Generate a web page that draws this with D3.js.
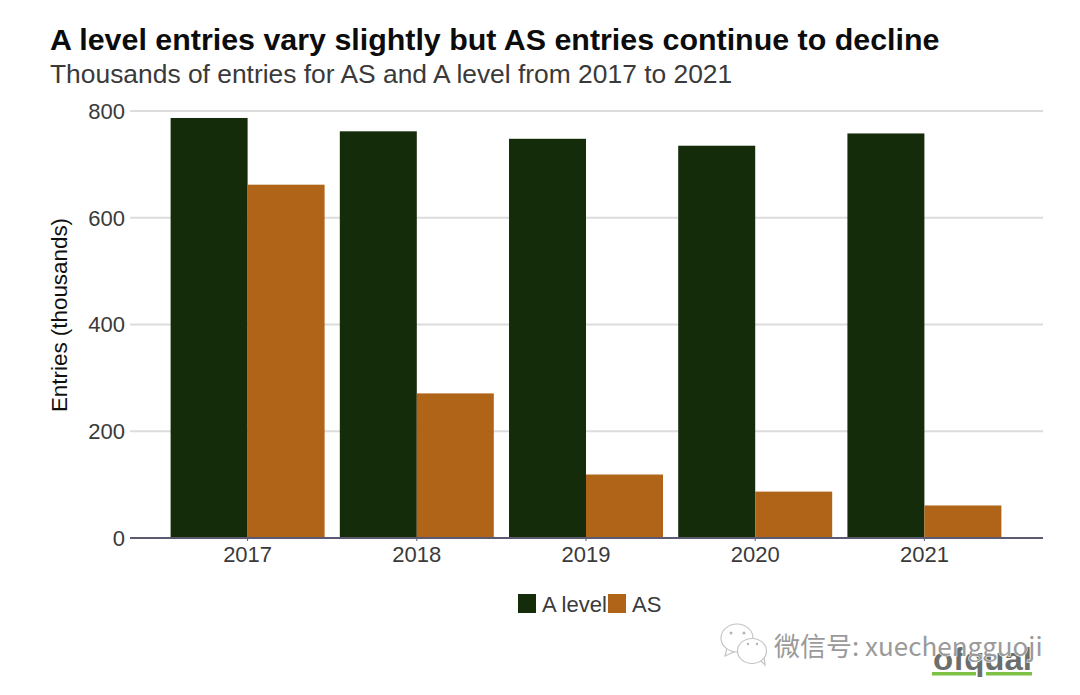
<!DOCTYPE html>
<meta charset="utf-8">
<style>
  html, body { margin: 0; padding: 0; background: #fff; }
  svg { display: block; font-family: "Liberation Sans", Arial, sans-serif; }
</style>
<script src="https://d3js.org/d3.v7.min.js"></script>
<div id="my_dataviz"></div>
<script>
  var years = ["2017", "2018", "2019", "2020", "2021"];
  var seriesNames = ["A level", "AS"];
  var aLevel = [786, 761, 747, 734, 757];
  var asLevel = [661, 270, 118, 86, 60];
  var yTicks = [0, 200, 400, 600, 800];
  var colors = ["#152c0b", "#b06418"];

  var w = 1080, h = 695;

  var svg = d3.select("#my_dataviz").append("svg")
    .attr("width", w)
    .attr("height", h);

  // titles
  svg.append("text")
    .attr("x", 50).attr("y", 50)
    .attr("font-size", 30.4).attr("font-weight", "bold").attr("fill", "#0c0c0c")
    .text("A level entries vary slightly but AS entries continue to decline");
  svg.append("text")
    .attr("x", 50).attr("y", 83)
    .attr("font-size", 26.4).attr("fill", "#3a3a3a")
    .text("Thousands of entries for AS and A level from 2017 to 2021");

  // scales
  var x = d3.scaleBand().domain(years).range([163, 1009])
    .paddingInner(0.09).paddingOuter(0.045);
  var xInner = d3.scaleBand().domain(seriesNames).range([0, x.bandwidth()]);
  var y = d3.scaleLinear().domain([0, 800]).range([537.5, 110.5]);

  // gridlines + y labels
  var yAxis = svg.append("g")
    .attr("transform", "translate(130,0)")
    .call(d3.axisLeft(y).tickValues(yTicks).tickSize(-913).tickPadding(5));
  yAxis.select(".domain").remove();
  yAxis.selectAll(".tick line").attr("stroke", "#dcdcdc").attr("stroke-width", 2);
  yAxis.selectAll(".tick text")
    .attr("font-family", "Liberation Sans").attr("font-size", 22).attr("fill", "#3a3a3a")
    .attr("dy", "0.36em");

  svg.append("text")
    .attr("transform", "translate(67,315) rotate(-90)")
    .attr("text-anchor", "middle")
    .attr("font-size", 22.4).attr("fill", "#111")
    .text("Entries (thousands)");

  // bars
  [aLevel, asLevel].forEach(function (values, s) {
    svg.append("g").selectAll("rect")
      .data(values)
      .enter()
      .append("rect")
      .attr("x", function (d, i) { return x(years[i]) + xInner(seriesNames[s]); })
      .attr("y", function (d) { return y(d); })
      .attr("width", xInner.bandwidth())
      .attr("height", function (d) { return y(0) - y(d); })
      .attr("fill", colors[s]);
  });

  // x axis
  var xAxis = svg.append("g")
    .attr("transform", "translate(0,538)")
    .call(d3.axisBottom(x).tickSize(3).tickPadding(5).tickSizeOuter(0));
  xAxis.select(".domain").attr("d", "M130,0H1043").attr("stroke", "#5c5a70").attr("stroke-width", 2);
  xAxis.selectAll(".tick line").attr("stroke", "#5c5a70");
  xAxis.selectAll(".tick text")
    .attr("font-family", "Liberation Sans").attr("font-size", 22).attr("fill", "#3a3a3a");

  // legend
  var legendX = [518, 608];
  seriesNames.forEach(function (name, i) {
    svg.append("rect")
      .attr("x", legendX[i]).attr("y", 594)
      .attr("width", 18).attr("height", 19)
      .attr("fill", colors[i]);
    svg.append("text")
      .attr("x", legendX[i] + 24).attr("y", 612)
      .attr("font-size", 22).attr("fill", "#3a3a3a")
      .text(name);
  });

  // ofqual logo
  var logo = svg.append("g");
  logo.append("text")
    .attr("x", 933).attr("y", 670)
    .attr("font-size", 31).attr("font-weight", "bold").attr("fill", "#6a6e6c")
    .attr("textLength", 99).attr("lengthAdjust", "spacingAndGlyphs")
    .text("ofqual");
  logo.append("rect").attr("x", 932).attr("y", 672).attr("width", 44).attr("height", 3.5).attr("fill", "#7cc143");
  logo.append("rect").attr("x", 986).attr("y", 672).attr("width", 46).attr("height", 3.5).attr("fill", "#7cc143");

  // wechat watermark
  var mark = svg.append("g").attr("fill", "#fff").attr("stroke", "#c4c4c4").attr("stroke-width", 1.2);
  mark.append("path").attr("d", "M727,648l-2,8l9,-4z");
  mark.append("ellipse").attr("cx", 737).attr("cy", 638).attr("rx", 16).attr("ry", 14);
  mark.append("path").attr("d", "M760,660l5,5l-1,-8z");
  mark.append("ellipse").attr("cx", 752).attr("cy", 651).attr("rx", 14.5).attr("ry", 12.5);
  var eyes = svg.append("g").attr("fill", "#b5b5b5");
  eyes.append("circle").attr("cx", 731).attr("cy", 633).attr("r", 1.5);
  eyes.append("circle").attr("cx", 744).attr("cy", 633).attr("r", 1.5);
  eyes.append("circle").attr("cx", 748).attr("cy", 644).attr("r", 1.2);
  eyes.append("circle").attr("cx", 757).attr("cy", 644).attr("r", 1.2);
  svg.append("text")
    .attr("x", 774).attr("y", 656)
    .attr("font-family", "Noto Sans CJK SC").attr("font-size", 26).attr("fill", "#9a9a9a")
    .attr("stroke", "#fff").attr("stroke-width", 1).attr("paint-order", "stroke")
    .text("微信号: xuechengguoji");
</script>
